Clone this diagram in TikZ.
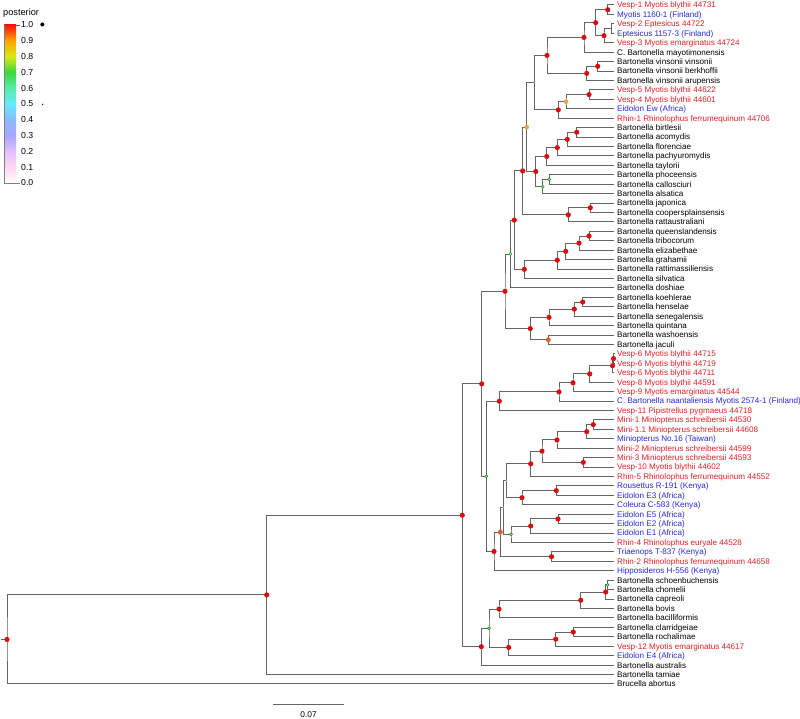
\documentclass[tikz,border=0pt]{standalone}
\usepackage{fontspec}
\setmainfont{Liberation Sans}
\usetikzlibrary{calc}
\pgfdeclarelayer{bg}
\pgfsetlayers{bg,main}
\definecolor{tred}{RGB}{226,32,38}
\definecolor{tblue}{RGB}{40,40,220}
\definecolor{brc}{RGB}{100,100,100}
\definecolor{dotred}{RGB}{214,16,16}
\definecolor{dotorange}{RGB}{232,168,64}
\definecolor{dotoranger}{RGB}{222,96,40}
\definecolor{cb0}{RGB}{255,255,255}
\definecolor{cb1}{RGB}{255,215,240}
\definecolor{cb2}{RGB}{228,192,255}
\definecolor{cb3}{RGB}{168,166,255}
\definecolor{cb4}{RGB}{140,186,255}
\definecolor{cb5}{RGB}{100,235,255}
\definecolor{cb6}{RGB}{90,235,170}
\definecolor{cb7}{RGB}{60,215,60}
\definecolor{cb8}{RGB}{215,235,20}
\definecolor{cb9}{RGB}{255,165,0}
\definecolor{cb10}{RGB}{250,20,10}
\pgfdeclareverticalshading{post}{100bp}{color(0bp)=(cb0); color(25bp)=(cb0); color(30bp)=(cb1); color(35bp)=(cb2); color(40bp)=(cb3); color(45bp)=(cb4); color(50bp)=(cb5); color(55bp)=(cb6); color(60bp)=(cb7); color(65bp)=(cb8); color(70bp)=(cb9); color(75bp)=(cb10); color(100bp)=(cb10)}
\tikzset{
  br/.style={draw=brc, line width=1.0pt},
  lab/.style={anchor=base west, inner sep=0pt, font=\fontsize{8.1}{9}\selectfont},
  leg/.style={anchor=west, inner sep=0pt, font=\fontsize{8.7}{10}\selectfont},
  pr/.style={fill=dotred, radius=2.6pt},
  po/.style={fill=dotorange, radius=2.4pt},
  por/.style={fill=dotoranger, radius=2.5pt},
  pg/.style={fill=green!40!white, draw=green!55!black, line width=0.4pt, radius=1.5pt},
  ptiny/.style={fill=gray!60, radius=0.8pt}
}
\newcommand\leaf[4]{%
  \coordinate (#1) at (614,{5+(#2-1)*9.43});
  \node[lab, text=#3] (#1t) at ([xshift=3pt,yshift=-2.9pt]#1) {#4};}
\newcommand\tn[4]{%
  \path let \p1=($(#3)!.5!(#4)$) in coordinate (#1) at (#2pt,\y1);
  \begin{pgfonlayer}{bg}\draw[br] (#3) -| (#1) |- (#4);\end{pgfonlayer}}
\newcommand\dt[2]{\path[#1] (#2) circle;}
\begin{document}
\begin{tikzpicture}[x=1pt,y=-1pt]
\useasboundingbox (0,0) rectangle (800,719);
% leaves
\leaf{l1}{1}{tred}{Vesp-1 Myotis blythii 44731}
\leaf{l2}{2}{tblue}{Myotis 1160-1 (Finland)}
\leaf{l3}{3}{tred}{Vesp-2 Eptesicus 44722}
\leaf{l4}{4}{tblue}{Eptesicus 1157-3 (Finland)}
\leaf{l5}{5}{tred}{Vesp-3 Myotis emarginatus 44724}
\leaf{l6}{6}{black}{C. Bartonella mayotimonensis}
\leaf{l7}{7}{black}{Bartonella vinsonii vinsonii}
\leaf{l8}{8}{black}{Bartonella vinsonii berkhoffii}
\leaf{l9}{9}{black}{Bartonella vinsonii arupensis}
\leaf{l10}{10}{tred}{Vesp-5 Myotis blythii 44622}
\leaf{l11}{11}{tred}{Vesp-4 Myotis blythii 44601}
\leaf{l12}{12}{tblue}{Eidolon Ew (Africa)}
\leaf{l13}{13}{tred}{Rhin-1 Rhinolophus ferrumequinum 44706}
\leaf{l14}{14}{black}{Bartonella birtlesii}
\leaf{l15}{15}{black}{Bartonella acomydis}
\leaf{l16}{16}{black}{Bartonella florenciae}
\leaf{l17}{17}{black}{Bartonella pachyuromydis}
\leaf{l18}{18}{black}{Bartonella taylorii}
\leaf{l19}{19}{black}{Bartonella phoceensis}
\leaf{l20}{20}{black}{Bartonella callosciuri}
\leaf{l21}{21}{black}{Bartonella alsatica}
\leaf{l22}{22}{black}{Bartonella japonica}
\leaf{l23}{23}{black}{Bartonella coopersplainsensis}
\leaf{l24}{24}{black}{Bartonella rattaustraliani}
\leaf{l25}{25}{black}{Bartonella queenslandensis}
\leaf{l26}{26}{black}{Bartonella tribocorum}
\leaf{l27}{27}{black}{Bartonella elizabethae}
\leaf{l28}{28}{black}{Bartonella grahamii}
\leaf{l29}{29}{black}{Bartonella rattimassiliensis}
\leaf{l30}{30}{black}{Bartonella silvatica}
\leaf{l31}{31}{black}{Bartonella doshiae}
\leaf{l32}{32}{black}{Bartonella koehlerae}
\leaf{l33}{33}{black}{Bartonella henselae}
\leaf{l34}{34}{black}{Bartonella senegalensis}
\leaf{l35}{35}{black}{Bartonella quintana}
\leaf{l36}{36}{black}{Bartonella washoensis}
\leaf{l37}{37}{black}{Bartonella jaculi}
\leaf{l38}{38}{tred}{Vesp-6 Myotis blythii 44715}
\leaf{l39}{39}{tred}{Vesp-6 Myotis blythii 44719}
\leaf{l40}{40}{tred}{Vesp-6 Myotis blythii 44711}
\leaf{l41}{41}{tred}{Vesp-8 Myotis blythii 44591}
\leaf{l42}{42}{tred}{Vesp-9 Myotis emarginatus 44544}
\leaf{l43}{43}{tblue}{C. Bartonella naantaliensis Myotis 2574-1 (Finland)}
\leaf{l44}{44}{tred}{Vesp-11 Pipistrellus pygmaeus 44718}
\leaf{l45}{45}{tred}{Mini-1 Miniopterus schreibersii 44530}
\leaf{l46}{46}{tred}{Mini-1.1 Miniopterus schreibersii 44608}
\leaf{l47}{47}{tblue}{Miniopterus No.16 (Taiwan)}
\leaf{l48}{48}{tred}{Mini-2 Miniopterus schreibersii 44599}
\leaf{l49}{49}{tred}{Mini-3 Miniopterus schreibersii 44593}
\leaf{l50}{50}{tred}{Vesp-10 Myotis blythii 44602}
\leaf{l51}{51}{tred}{Rhin-5 Rhinolophus ferrumequinum 44552}
\leaf{l52}{52}{tblue}{Rousettus R-191 (Kenya)}
\leaf{l53}{53}{tblue}{Eidolon E3 (Africa)}
\leaf{l54}{54}{tblue}{Coleura C-583 (Kenya)}
\leaf{l55}{55}{tblue}{Eidolon E5 (Africa)}
\leaf{l56}{56}{tblue}{Eidolon E2 (Africa)}
\leaf{l57}{57}{tblue}{Eidolon E1 (Africa)}
\leaf{l58}{58}{tred}{Rhin-4 Rhinolophus euryale 44528}
\leaf{l59}{59}{tblue}{Triaenops T-837 (Kenya)}
\leaf{l60}{60}{tred}{Rhin-2 Rhinolophus ferrumequinum 44658}
\leaf{l61}{61}{tblue}{Hipposideros H-556 (Kenya)}
\leaf{l62}{62}{black}{Bartonella schoenbuchensis}
\leaf{l63}{63}{black}{Bartonella chomelii}
\leaf{l64}{64}{black}{Bartonella capreoli}
\leaf{l65}{65}{black}{Bartonella bovis}
\leaf{l66}{66}{black}{Bartonella bacilliformis}
\leaf{l67}{67}{black}{Bartonella clarridgeiae}
\leaf{l68}{68}{black}{Bartonella rochalimae}
\leaf{l69}{69}{tred}{Vesp-12 Myotis emarginatus 44617}
\leaf{l70}{70}{tblue}{Eidolon E4 (Africa)}
\leaf{l71}{71}{black}{Bartonella australis}
\leaf{l72}{72}{black}{Bartonella tamiae}
\leaf{l73}{73}{black}{Brucella abortus}
% internal nodes
\tn{n1}{607.7}{l1}{l2}
\tn{n2}{611.7}{l3}{l4}
\tn{n3}{604}{n2}{l5}
\tn{n4}{595.7}{n1}{n3}
\tn{n5}{584}{n4}{l6}
\tn{n6}{597.7}{l7}{l8}
\tn{n7}{586.7}{n6}{l9}
\tn{n8}{547}{n5}{n7}
\tn{n9}{589}{l10}{l11}
\tn{n10}{566}{n9}{l12}
\tn{n11}{558.3}{n10}{l13}
\tn{n12}{534.7}{n8}{n11}
\tn{n13}{576.7}{l14}{l15}
\tn{n14}{567.3}{n13}{l16}
\tn{n15}{557.3}{n14}{l17}
\tn{n16}{546.7}{n15}{l18}
\tn{n17}{549.3}{l19}{l20}
\tn{n18}{542.7}{n17}{l21}
\tn{n19}{535.7}{n16}{n18}
\tn{n20}{526.7}{n12}{n19}
\tn{n21}{590.3}{l22}{l23}
\tn{n22}{568.3}{n21}{l24}
\tn{n23}{522.7}{n20}{n22}
\tn{n24}{589}{l25}{l26}
\tn{n25}{579}{n24}{l27}
\tn{n26}{565.7}{n25}{l28}
\tn{n27}{557.3}{n26}{l29}
\tn{n28}{524.3}{n27}{l30}
\tn{n29}{514.3}{n23}{n28}
\tn{n30}{510.3}{n29}{l31}
\tn{n31}{582.7}{l32}{l33}
\tn{n32}{574.3}{n31}{l34}
\tn{n33}{549}{n32}{l35}
\tn{n34}{548.3}{l36}{l37}
\tn{n35}{530.3}{n33}{n34}
\tn{n36}{505}{n30}{n35}
\tn{n37}{613.5}{l38}{l39}
\tn{n38}{612.5}{n37}{l40}
\tn{n39}{589.7}{n38}{l41}
\tn{n40}{573}{n39}{l42}
\tn{n41}{559}{n40}{l43}
\tn{n42}{499.3}{n41}{l44}
\tn{n43}{593.3}{l45}{l46}
\tn{n44}{586.7}{n43}{l47}
\tn{n45}{557}{n44}{l48}
\tn{n46}{583.3}{l49}{l50}
\tn{n47}{542}{n45}{n46}
\tn{n48}{530.7}{n47}{l51}
\tn{n49}{556.3}{l52}{l53}
\tn{n50}{522}{n49}{l54}
\tn{n51}{506.3}{n48}{n50}
\tn{n52}{558}{l55}{l56}
\tn{n53}{530.7}{n52}{l57}
\tn{n54}{511}{n53}{l58}
\tn{n55}{503.3}{n51}{n54}
\tn{n56}{551.5}{l59}{l60}
\tn{n57}{500.3}{n55}{n56}
\tn{n58}{494}{n57}{l61}
\tn{n59}{486.3}{n42}{n58}
\tn{n60}{481.7}{n36}{n59}
\tn{n61}{607.7}{l62}{l63}
\tn{n62}{605.7}{n61}{l64}
\tn{n63}{580.7}{n62}{l65}
\tn{n64}{499}{n63}{l66}
\tn{n65}{573.3}{l67}{l68}
\tn{n66}{555.7}{n65}{l69}
\tn{n67}{508.7}{n66}{l70}
\tn{n68}{489}{n64}{n67}
\tn{n69}{481.3}{n68}{l71}
\tn{n70}{462.3}{n60}{n69}
\tn{n71}{266.7}{n70}{l72}
\tn{n72}{7}{n71}{l73}
\path let \p1=(n72) in coordinate (rs) at (1pt,\y1);
\begin{pgfonlayer}{bg}\draw[br] (rs) -- (n72);\end{pgfonlayer}
% posterior dots
\foreach \n in {n1,n3,n4,n5,n6,n7,n8,n9,n11,n13,n14,n15,n16,n19,n21,n22,n23,n24,n25,n26,n27,n28,n29,n31,n32,n33,n35,n36,n37,n38,n39,n40,n41,n42,n43,n44,n45,n46,n47,n48,n49,n50,n52,n53,n56,n58,n60,n62,n63,n64,n65,n66,n67,n69,n70,n71,n72}{\dt{pr}{\n}}
\foreach \n in {n17,n18,n30,n54,n59,n61,n68}{\dt{pg}{\n}}
\dt{po}{n10}
\dt{po}{n20}
\dt{por}{n34}
\dt{por}{n57}
\dt{ptiny}{n12}
\dt{ptiny}{n51}
\dt{ptiny}{n55}
% scale bar
\coordinate (sba) at (273.3,704.7);
\coordinate (sbb) at (343.7,704.7);
\draw[br] (sba) -- (sbb);
\node[inner sep=0pt, font=\fontsize{8.4}{10}\selectfont] (sbl) at (308.5,714.2) {0.07};
% legend
\node[anchor=west, inner sep=0pt, font=\fontsize{9.2}{10}\selectfont] (ptitle) at (3,13) {posterior};
\shade[shading=post] (4,25) rectangle (16,183);
\draw[gray, line width=0.7pt] (4,25) -- (4,183) -- (20,183);
\draw[gray!70!black, line width=0.7pt] (16,25) -- (20,25);
\foreach \v [count=\k from 0] in {1.0,0.9,0.8,0.7,0.6,0.5,0.4,0.3,0.2,0.1,0.0}{
  \node[leg] (lg\k) at (21,{25+\k*15.8}) {\v};
}
\fill[black] (42.3,24.5) circle (2pt);
\fill[black] (42.7,104.3) circle (0.7pt);
\end{tikzpicture}
\end{document}
